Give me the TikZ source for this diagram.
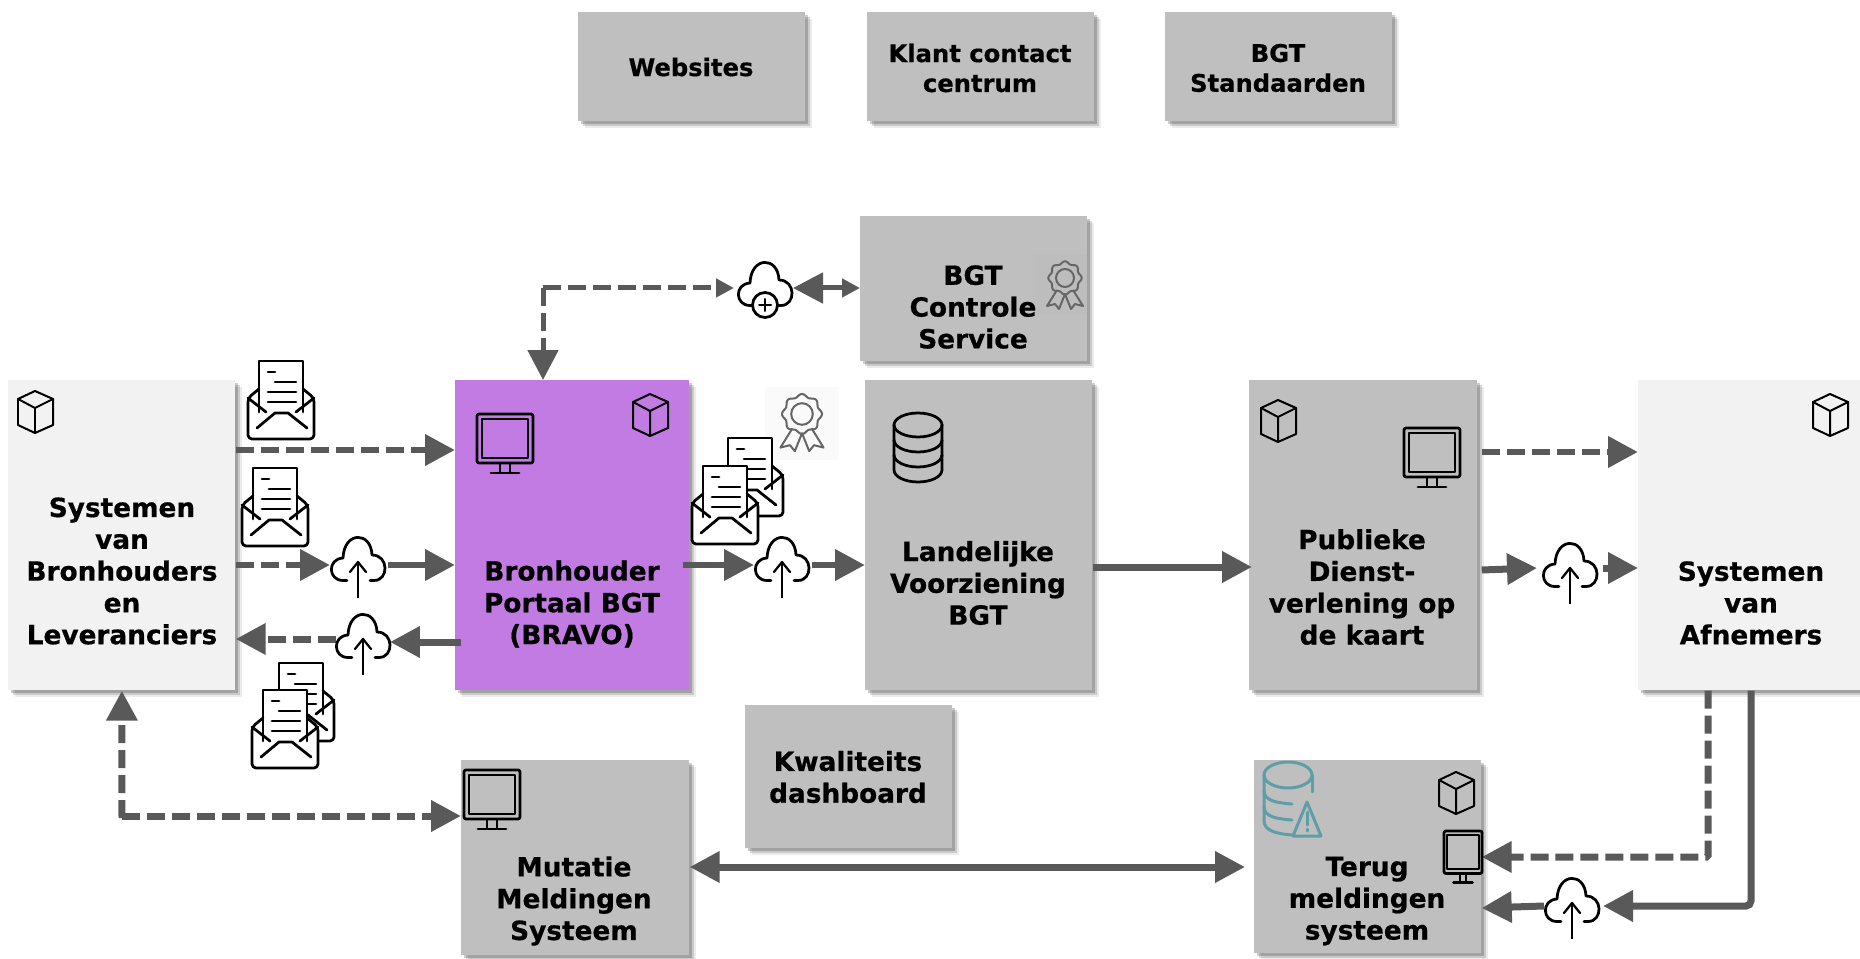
\documentclass[tikz,border=0pt]{standalone}
\usepackage{fontspec}
\setmainfont[BoldFeatures={FakeBold=0.6}]{DejaVu Sans}
\usetikzlibrary{arrows.meta,shadows}
\def\px{0.02cm}
\definecolor{boxgrey}{HTML}{BFBFBF}
\definecolor{boxlight}{HTML}{F2F2F2}
\definecolor{boxpurple}{HTML}{C27BE2}
\definecolor{flowgrey}{HTML}{595959}
\definecolor{ribbongrey}{HTML}{666666}
\definecolor{dbteal}{HTML}{5F9EA8}
\tikzset{
	sysbox/.style 2 args={anchor=north west,inner sep=0,minimum width=#1*\px,minimum height=#2*\px,
		general shadow={shadow xshift=.13cm,shadow yshift=-.13cm,fill=black,opacity=.08},
		general shadow={shadow xshift=.09cm,shadow yshift=-.09cm,fill=black,opacity=.14},
		general shadow={shadow xshift=.05cm,shadow yshift=-.05cm,fill=black,opacity=.2}},
	boxtext/.style={font=\fontsize{15}{18.1}\selectfont\bfseries,align=center,inner sep=0},
	toptext/.style={font=\fontsize{13.8}{17}\selectfont\bfseries,align=center,inner sep=0},
	flow/.style={draw=flowgrey,line width=.14cm,-{Triangle[length=.6cm,width=.6cm]}},
	flowdash/.style={flow,dash pattern=on .36cm off .14cm},
	smalltip/.style={-{Triangle[length=.36cm,width=.36cm]}},
	icon/.style={draw=black,line width=.055cm,line join=round,line cap=round},
	pics/cubeicon/.style={code={
		\draw[icon,line width=.04cm] (0,-21) -- (18,-13) -- (18,13) -- (0,21) -- (-17,13) -- (-17,-13) -- cycle;
		\draw[icon,line width=.04cm] (-17,-13) -- (0,-4) -- (18,-13) (0,-4) -- (0,21);
	}},
	pics/monitoricon/.style={code={
		\draw[icon,rounded corners=.04cm] (-28,-30) rectangle (28,19);
		\draw[icon,line width=.04cm] (-23,-25) rectangle (23,14);
		\draw[icon,line width=.04cm] (-5,19) -- (-5,28) (5,19) -- (5,28);
		\draw[icon] (-14,29) -- (14,29);
	}},
	pics/mailicon/.style={code={
		\fill[white] (-33,-2) -- (-22,-11) -- (-22,-39) -- (22,-39) -- (22,-11) -- (33,-2) -- (33,39) -- (-33,39) -- cycle;
		\draw[icon] (-22,12) -- (-22,-39) -- (22,-39) -- (22,12);
		\draw[icon,rounded corners=.08cm] (-22,-11) -- (-33,-2) -- (-33,39) -- (33,39) -- (33,-2) -- (22,-11);
		\draw[icon] (-33,-2) -- (-15,12) (33,-2) -- (15,12);
		\draw[icon] (-24,28) -- (-6,13) -- (7,13) -- (26,28);
		\draw[icon] (-13,-28) -- (-6,-28) (-6,-18) -- (15,-18) (-13,-8) -- (15,-8) (-13,2) -- (15,2);
	}},
	pics/cloudline/.style={code={
		\draw[icon] (-11,15.5) -- (-15,15.5) .. controls (-30,15.5) and (-31,-6) .. (-15,-7)
			.. controls (-14,-34) and (13,-34) .. (14,-10)
			.. controls (31,-10) and (31,15.5) .. (16,15.5) -- (12,15.5);
	}},
	pics/cloudup/.style={code={
		\pic {cloudline};
		\draw[icon,line width=.04cm,line cap=butt] (0,33) -- (0,-2);
		\draw[icon,line width=.045cm] (-8,7) -- (0,-3) -- (8,7);
	}},
	pics/cloudplus/.style={code={
		\pic {cloudline};
		\draw[icon,fill=white] (0,15) circle (.25cm);
		\draw[icon,line width=.04cm] (-6,15) -- (6,15) (0,9) -- (0,21);
	}},
	pics/rosette/.style={code={
		\draw[draw=ribbongrey,line width=.04cm,fill=none,line join=round]
			(-8,12) -- (-18,28) -- (-10,26) -- (-6,31) -- (0,16) -- (6,31) -- (10,26) -- (18,28) -- (8,12);
		\draw[draw=ribbongrey,line width=.04cm,smooth,domain=0:360,samples=73]
			plot ({(15.5+1.2*cos(8*\x))*cos(\x)},{(15.5+1.2*cos(8*\x))*sin(\x)});
		\draw[draw=ribbongrey,line width=.04cm] (0,0) circle (.18cm);
	}},
	pics/dbicon/.style={code={
		\draw[icon] (0,-22) ellipse (.48cm and .24cm);
		\draw[icon] (-24,-22) -- (-24,23) arc[start angle=180,end angle=360,x radius=.48cm,y radius=.24cm] -- (24,-22);
		\draw[icon] (-24,-7) arc[start angle=180,end angle=360,x radius=.48cm,y radius=.24cm];
		\draw[icon] (-24,8) arc[start angle=180,end angle=360,x radius=.48cm,y radius=.24cm];
	}},
	pics/dbwarn/.style={code={
		\begin{scope}[draw=dbteal,line width=.06cm,line cap=round,line join=round]
		\draw (0,0) ellipse (.48cm and .26cm);
		\draw (24,0) -- (24,17);
		\draw (-24,0) -- (-24,46) .. controls (-24,56) and (-10,59) .. (4,60);
		\draw (-24,16) .. controls (-24,26) and (-10,28) .. (4,29);
		\draw (-24,32) .. controls (-24,42) and (-10,44) .. (4,45);
		\draw (19,27) -- (5,61) -- (33,61) -- cycle;
		\draw (19,37) -- (19,50) (19,54) -- (19,56);
		\end{scope}
	}},
}
\begin{document}
\begin{tikzpicture}[x=\px,y=-\px]
	\useasboundingbox (0,0) rectangle (1860,959);

	% boxes
	\node[sysbox={227}{109},fill=boxgrey] (websites) at (578,12) {};
	\node[sysbox={227}{109},fill=boxgrey] (klant) at (867,12) {};
	\node[sysbox={227}{109},fill=boxgrey] (standaarden) at (1165,12) {};
	\node[sysbox={227}{145},fill=boxgrey] (controle) at (860,216) {};
	\node[sysbox={227}{310},fill=boxlight] (bronsys) at (8,380) {};
	\node[sysbox={234}{310},fill=boxpurple] (bravo) at (455,380) {};
	\node[sysbox={227}{310},fill=boxgrey] (lv) at (865,380) {};
	\node[sysbox={228}{310},fill=boxgrey] (publiek) at (1249,380) {};
	\node[sysbox={230}{310},fill=boxlight] (afnemers) at (1638,380) {};
	\node[sysbox={207}{143},fill=boxgrey] (kwaliteit) at (745,705) {};
	\node[sysbox={228}{195},fill=boxgrey] (mutatie) at (461,760) {};
	\node[sysbox={227}{193},fill=boxgrey] (terug) at (1254,760) {};

	% rosette backings
	\fill[black!1!boxgrey] (1033,255) rectangle (1087,315);
	\fill[black!2] (765,387) rectangle (839,460);

	\node[toptext] (websitesT) at (691,67) {Websites};
	\node[toptext] (klantT) at (980,68) {Klant contact\\centrum};
	\node[toptext] (standaardenT) at (1278,68) {BGT\\Standaarden};
	\node[boxtext] (controleT) at (973,307) {BGT\\Controle\\Service};
	\node[boxtext] (bronsysT) at (122,571) {Systemen\\van\\Bronhouders\\en\\Leveranciers};
	\node[boxtext] (bravoT) at (572,604) {Bronhouder\\Portaal BGT\\(BRAVO)};
	\node[boxtext] (lvT) at (978,583) {Landelijke\\Voorziening\\BGT};
	\node[boxtext] (publiekT) at (1362,587) {Publieke\\Dienst-\\verlening op\\de kaart};
	\node[boxtext] (afnemersT) at (1751,603) {Systemen\\van\\Afnemers};
	\node[boxtext] (kwaliteitT) at (848,777) {Kwaliteits\\dashboard};
	\node[boxtext] (mutatieT) at (574,901) {Mutatie\\Meldingen\\Systeem};
	\node[boxtext] (terugT) at (1367,901) {Terug\\meldingen\\systeem};

	% cloud spots
	\node[inner sep=0,minimum width=.12cm,minimum height=.12cm] (cloudA) at (358,565) {};
	\node[inner sep=0,minimum width=.12cm,minimum height=.12cm] (cloudB) at (363,642) {};
	\node[inner sep=0,minimum width=.12cm,minimum height=.12cm] (cloudC) at (782,565) {};
	\node[inner sep=0,minimum width=.12cm,minimum height=.12cm] (cloudD) at (1570,571) {};
	\node[inner sep=0,minimum width=.12cm,minimum height=.12cm] (cloudE) at (1572,906) {};
	\node[inner sep=0,minimum width=.12cm,minimum height=.12cm] (cloudF) at (765,288) {};

	% connectors
	\draw[flowdash] (bronsys.east |- 0,450) -- (bravo.west |- 0,450);
	\draw[flowdash] (bronsys.east |- 0,565) -- ([xshift=-28*\px]cloudA.center);
	\draw[flow] ([xshift=30*\px]cloudA.center) -- (bravo.west |- 0,565);
	\draw[flow] ([xshift=6*\px]bravo.west |- 0,642) -- ([xshift=27*\px]cloudB.center);
	\draw[flowdash] ([xshift=-27*\px,yshift=3*\px]cloudB.center) -- (bronsys.east |- 0,639);
	\draw[flowdash] (122,818) -- (bronsys.south);
	\draw[flowdash] (122,816) -- (mutatie.west |- 0,816);
	\draw[flowdash,line width=.1cm,smalltip] (543,288) -- ([xshift=-31*\px]cloudF.center);
	\draw[flowdash,line width=.1cm] (543,288) -- (bravo.north -| 543,0);
	\draw[flow,line width=.1cm,{Triangle[length=.6cm,width=.6cm]}-{Triangle[length=.36cm,width=.36cm]}] ([xshift=28*\px]cloudF.center) -- (controle.west |- 0,288);
	\draw[flow] ([xshift=-7*\px]bravo.east |- 0,565) -- ([xshift=-28*\px]cloudC.center);
	\draw[flow] ([xshift=30*\px]cloudC.center) -- (lv.west |- 0,565);
	\draw[flow] (lv.east |- 0,567) -- ([xshift=3*\px]publiek.west |- 0,567);
	\draw[flowdash] ([xshift=4*\px]publiek.east |- 0,452) -- (afnemers.west |- 0,452);
	\draw[flow] ([xshift=4*\px]publiek.east |- 0,570) -- ([xshift=-33*\px,yshift=3*\px]cloudD.center);
	\draw[flowdash,dash pattern=on .14cm off .1cm] ([xshift=33*\px,yshift=3*\px]cloudD.center) -- (afnemers.west |- 0,568);
	\draw[flowdash,rounded corners=.03cm] (afnemers.south -| 1708,0) -- (1708,857) -- (terug.east |- 0,857);
	\draw[flow,rounded corners=.1cm] (afnemers.south -| 1751,0) -- (1751,906) -- ([xshift=31*\px]cloudE.center);
	\draw[flow] ([xshift=-28*\px]cloudE.center) -- (terug.east |- 0,908);
	\draw[flow,{Triangle[length=.6cm,width=.6cm]}-{Triangle[length=.6cm,width=.6cm]}] (mutatie.east |- 0,867) -- ([xshift=-9*\px]terug.west |- 0,867);

	% icons
	\pic at (cloudA) {cloudup};
	\pic at (cloudB) {cloudup};
	\pic at (cloudC) {cloudup};
	\pic at (cloudD) {cloudup};
	\pic at (cloudE) {cloudup};
	\pic at (765,290) {cloudplus};
	\pic at (35,412) {cubeicon};
	\pic at (650,415) {cubeicon};
	\pic at (1278,421) {cubeicon};
	\pic at (1830,415) {cubeicon};
	\pic at (1456,793) {cubeicon};
	\pic at (505,444) {monitoricon};
	\pic at (1432,458) {monitoricon};
	\pic at (492,800) {monitoricon};
	\pic[xscale=.68,yscale=.87] at (1463,857) {monitoricon};
	\pic at (281,400) {mailicon};
	\pic at (275,507) {mailicon};
	\pic at (301,702) {mailicon};
	\pic at (285,729) {mailicon};
	\pic at (750,477) {mailicon};
	\pic at (725,505) {mailicon};
	\pic at (1065,278) {rosette};
	\pic[scale=1.2] at (802,414) {rosette};
	\pic at (918,447) {dbicon};
	\pic at (1288,775) {dbwarn};
\end{tikzpicture}
\end{document}
